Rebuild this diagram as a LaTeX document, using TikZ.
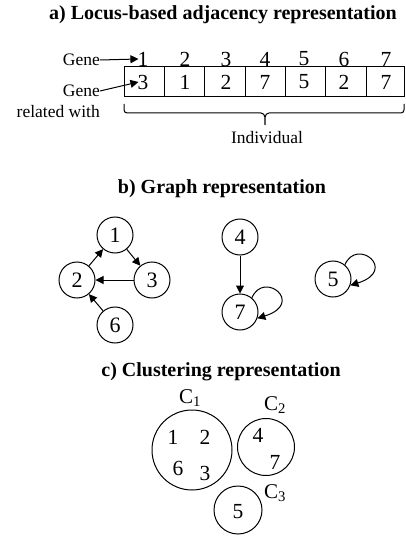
\documentclass[tikz,border=0pt]{standalone}
\usepackage{fontspec}
\setmainfont{Liberation Serif}
\usetikzlibrary{arrows.meta}
\begin{document}
\begin{tikzpicture}[x=1pt,y=-1pt,
  ttl/.style={font=\fontsize{20}{20}\selectfont\bfseries, inner sep=0},
  lbl/.style={font=\fontsize{17.5}{18}\selectfont, inner sep=0},
  clbl/.style={font=\fontsize{21}{21}\selectfont, inner sep=0},
  dig/.style={font=\fontsize{21.5}{22}\selectfont, inner sep=0},
  gnode/.style={circle, draw, line width=1pt, minimum size=36pt, inner sep=0, font=\fontsize{22}{22}\selectfont},
  arr/.style={line width=1pt, -{Triangle[length=8pt,width=8pt]}},
  ln/.style={line width=1pt}]
\useasboundingbox (0,0) rectangle (405,537);
% ---- a)
\node[ttl] (ta) at (223,15) {a) Locus-based adjacency representation};
\node[lbl, anchor=east] (g1) at (100,60) {Gene};
\node[lbl, anchor=east] (g2) at (100,91) {Gene};
\node[lbl, anchor=east] (rw) at (100,112) {related with};
\foreach \i/\x in {1/143,2/185,3/226,4/265,5/304,6/344,7/386}
  \node[dig] (h\i) at (\x,59) {\i};
\draw[ln] (124,67) rectangle (404,97);
\foreach \x in {164.3,204.6,245,285.3,325.6,366}
  \draw[ln] (\x,67) -- (\x,97);
\foreach \i/\x/\v in {1/143/3,2/185/1,3/226/2,4/265/7,5/304/5,6/344/2,7/386/7}
  \node[dig] (r\i) at (\x,82) {\v};
\draw[arr] (g1.east) -- ([xshift=1pt]h1.west);
\draw[arr] (g2.east) -- ([xshift=1pt]r1.west);
\coordinate (bl) at (124,104);
\coordinate (br) at (404,104);
\coordinate (bt) at (265,125);
\draw[ln, rounded corners=3pt] (bl) -- (124,113) -- (261,113);
\draw[ln, rounded corners=3pt] (br) -- (404,113) -- (269,113);
\draw[ln] (261,113) to[out=0,in=90] (bt) to[out=90,in=180] (269,113);
\node[lbl] (ind) at (267,138) {Individual};
% ---- b)
\node[ttl] (tb) at (222,189) {b) Graph representation};
\node[gnode] (n1) at (115,235) {1};
\node[gnode] (n2) at (77,280) {2};
\node[gnode] (n3) at (152,280) {3};
\node[gnode] (n6) at (115,325) {6};
\node[gnode] (n4) at (240,237) {4};
\node[gnode] (n7) at (240,312) {7};
\node[gnode] (n5) at (333,279) {5};
\draw[arr] (n2) -- (n1);
\draw[arr] (n1) -- (n3);
\draw[arr] (n3) -- (n2);
\draw[arr] (n6) -- (n2);
\draw[arr] (n4) -- (n7);
\draw[arr] (n7.50) .. controls +(12,-28) and +(48,-15) .. (n7.-20);
\draw[arr] (n5.50) .. controls +(12,-28) and +(48,-15) .. (n5.-20);
% ---- c)
\node[ttl] (tc) at (221,372) {c) Clustering representation};
\node[circle, draw, line width=1pt, minimum size=80pt, inner sep=0] (c1) at (192,450) {};
\node[circle, draw, line width=1pt, minimum size=57pt, inner sep=0] (c2) at (266,447) {};
\node[circle, draw, line width=1pt, minimum size=48pt, inner sep=0] (c3) at (238,510) {};
\node[clbl] (l1) at (190,398) {C\textsubscript{1}};
\node[clbl] (l2) at (275,405) {C\textsubscript{2}};
\node[clbl] (l3) at (275,493) {C\textsubscript{3}};
\node[dig] (m1) at (173,437) {1};
\node[dig] (m2) at (205,437) {2};
\node[dig] (m6) at (178,468) {6};
\node[dig] (m3) at (205,473) {3};
\node[dig] (m4) at (258,435) {4};
\node[dig] (m7) at (275,462) {7};
\node[dig] (m5) at (238,512) {5};
\end{tikzpicture}
\end{document}
